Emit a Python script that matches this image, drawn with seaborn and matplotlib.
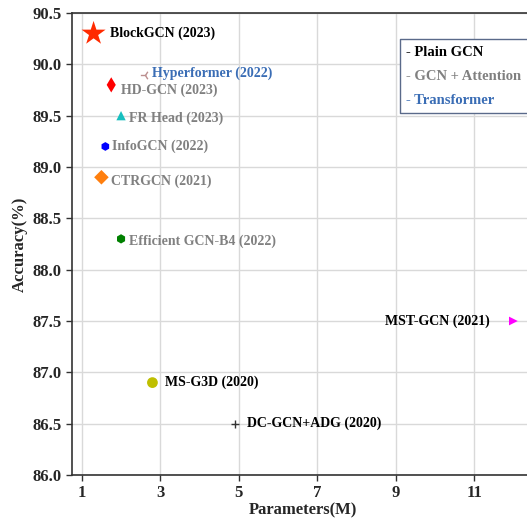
import matplotlib
matplotlib.use('Agg')
import matplotlib.pyplot as plt
import seaborn as sns
from matplotlib.patches import Rectangle
from matplotlib.lines import Line2D

# chart values
models = ['BlockGCN (2023)', 'Hyperformer (2022)', 'HD-GCN (2023)', 'FR Head (2023)',
          'InfoGCN (2022)', 'CTRGCN (2021)', 'Efficient GCN-B4 (2022)',
          'MST-GCN (2021)', 'MS-G3D (2020)', 'DC-GCN+ADG (2020)']
params = [1.3, 2.6, 1.75, 2.0, 1.6, 1.5, 2.0, 12.0, 2.8, 4.9]
accuracy = [90.3, 89.9, 89.8, 89.5, 89.2, 88.9, 88.3, 87.5, 86.9, 86.5]
groups = ['plain', 'transformer', 'attention', 'attention', 'attention', 'attention',
          'attention', 'plain', 'plain', 'plain']
legend_labels = ['- Plain GCN', '- GCN + Attention', '- Transformer']
legend_groups = ['plain', 'attention', 'transformer']
x_ticks = [1, 3, 5, 7, 9, 11]
y_ticks = [86.0, 86.5, 87.0, 87.5, 88.0, 88.5, 89.0, 89.5, 90.0, 90.5]

# styling
markers = ['*', '3', 'd', '^', 'h', 'D', 'h', '>', 'o', '+']
colors = ['#ff2a00', '#bc8f8f', 'red', '#17bfbf', 'blue', '#ff7f0e', 'green',
          'magenta', '#bfbf00', '#333333']
sizes = [330, 45, 60, 45, 40, 55, 45, 40, 60, 40]
group_color = {'plain': 'black', 'attention': '#808080', 'transformer': '#3a6db5'}
# label offsets in points (dx, dy)
offsets = [(12, 0), (5, 1), (7, -4), (6, -2), (5, 0), (7, -3), (6, -2), (-17, 0), (9, 0), (9, 0)]

sns.set_style('white')
plt.rcParams['font.family'] = ['Liberation Serif', 'DejaVu Serif']
plt.rcParams['font.weight'] = 'bold'

W, H = 527, 519
fig = plt.figure(figsize=(W / 100, H / 100), dpi=100)
ax = fig.add_axes([72 / W, 1 - 475 / H, 461 / W, 462 / H])
ax.grid(True, color='#d9d9d9', linewidth=1.0, zorder=0)
ax.set_axisbelow(True)

for i in range(len(models)):
    kw = dict(x=[params[i]], y=[accuracy[i]], marker=markers[i], color=colors[i],
              s=sizes[i], ax=ax, legend=False, zorder=3)
    if markers[i] in ('3', '+'):
        kw['linewidth'] = 1.0
    else:
        kw['edgecolor'] = 'none'
    sns.scatterplot(**kw)
    dx, dy = offsets[i]
    ax.annotate(models[i], (params[i], accuracy[i]), xytext=(dx, dy),
                textcoords='offset points', ha='left' if dx > 0 else 'right',
                va='center', fontsize=10, fontweight='bold',
                color=group_color[groups[i]])

ax.set_xlim(0.75, 12.5)
ax.set_ylim(86.0, 90.5)
ax.set_xticks(x_ticks)
ax.set_yticks(y_ticks)
ax.set_yticklabels([f'{v:.1f}' for v in y_ticks])
ax.tick_params(axis='both', labelsize=12, direction='out', length=4, width=1,
               color='#333333', bottom=True, left=True)
for lbl in ax.get_xticklabels() + ax.get_yticklabels():
    lbl.set_fontweight('bold')
ax.set_xlabel('Parameters(M)', fontsize=12, fontweight='bold', labelpad=1)
ax.set_ylabel('Accuracy(%)', fontsize=12, fontweight='bold', labelpad=3)
for side in ['left', 'bottom', 'top']:
    ax.spines[side].set_color('#333333')
    ax.spines[side].set_linewidth(1.2)
ax.spines['right'].set_visible(False)

# legend box, open on the right where the figure is cut
x0, x1, y0, y1 = 400 / W, 560 / W, 1 - 113 / H, 1 - 39 / H
fig.patches.append(Rectangle((x0, y0), x1 - x0, y1 - y0, transform=fig.transFigure,
                             facecolor='white', edgecolor='none', zorder=5))
fig.lines.append(Line2D([x1, x0, x0, x1], [y1, y1, y0, y0], transform=fig.transFigure,
                        color='#5a6a8a', linewidth=1.0, zorder=6))
for k, (lab, g) in enumerate(zip(legend_labels, legend_groups)):
    fig.text(406 / W, 1 - (52 + 24 * k) / H, lab, ha='left', va='center',
             fontsize=10.5, fontweight='bold', color=group_color[g], zorder=7)

fig.savefig('out.png', dpi=100)
